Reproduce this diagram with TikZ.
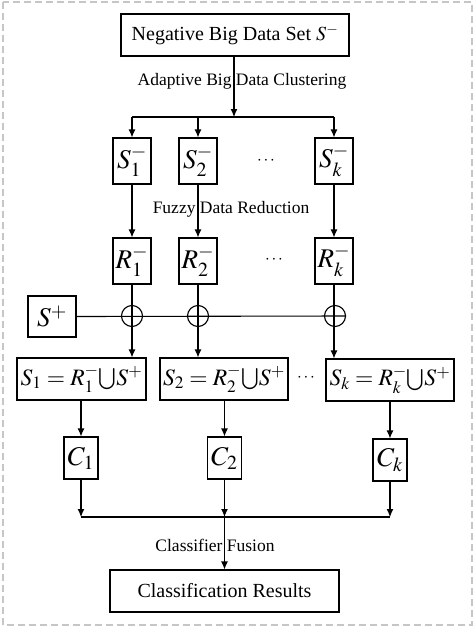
\documentclass[tikz,border=0pt]{standalone}
\usepackage{mathptmx}
\usepackage{fontspec}
\setmainfont{Liberation Serif}
\usetikzlibrary{arrows.meta}
\tikzset{
  box/.style={draw=black, line width=1.1pt, inner sep=0pt, align=center},
  mtxt/.style={font=\fontsize{27}{30}\selectfont},
  wtxt/.style={font=\fontsize{23.5}{28}\selectfont},
  btxt/.style={font=\fontsize{20}{24}\selectfont},
  dtxt/.style={font=\fontsize{17}{20}\selectfont, inner sep=0pt},
  lbl/.style={font=\fontsize{17.5}{20}\selectfont, inner sep=0pt},
  conn/.style={line width=1.1pt},
  arr/.style={line width=1.1pt, -{Latex[length=8pt,width=7pt]}},
  oplus/.style={circle, draw=black, line width=1.1pt, minimum size=21pt, inner sep=0pt},
}
\begin{document}
\begin{tikzpicture}[x=1pt,y=-1pt]
\useasboundingbox (0,0) rectangle (474,627);
\draw[gray!45, line width=2pt, dash pattern=on 7pt off 4pt] (3,2) rectangle (472,625);

% top
\node[box, btxt, minimum width=228pt, minimum height=42pt] (top) at (235,35) {Negative Big Data Set $S^{-}$};
\coordinate (j1) at (234,117);
\node[lbl] (lclust) at (242,81) {Adaptive Big Data Clustering};

% S_i^-
\node[box, mtxt, minimum width=38pt, minimum height=46pt] (s1) at (132,161) {$S_1^{-}$};
\node[box, mtxt, minimum width=38pt, minimum height=46pt] (s2) at (198,161) {$S_2^{-}$};
\node[box, mtxt, minimum width=38pt, minimum height=46pt] (sk) at (334,161) {$S_k^{-}$};
\node[dtxt] (d1) at (266,161) {$\cdots$};

\node[lbl] (lfuzzy) at (231,209) {Fuzzy Data Reduction};

% R_i^-
\node[box, mtxt, minimum width=38pt, minimum height=46pt] (r1) at (132,261) {$R_1^{-}$};
\node[box, mtxt, minimum width=38pt, minimum height=46pt] (r2) at (198,261) {$R_2^{-}$};
\node[box, mtxt, minimum width=38pt, minimum height=46pt] (rk) at (334,261) {$R_k^{-}$};
\node[dtxt] (d2) at (274,260) {$\cdots$};

% S+
\node[box, mtxt, minimum width=48pt, minimum height=41pt] (sp) at (52,316.5) {$S^{+}$};
\node[oplus] (o1) at (132,316) {};
\node[oplus] (o2) at (198,316) {};
\node[oplus] (ok) at (335,316) {};

% S_i
\node[box, wtxt, minimum width=129pt, minimum height=42pt] (u1) at (81.5,379) {$S_1=R_1^{-}\!\bigcup\! S^{+}$};
\node[box, wtxt, minimum width=128pt, minimum height=42pt] (u2) at (224,379) {$S_2=R_2^{-}\!\bigcup\! S^{+}$};
\node[box, wtxt, minimum width=128pt, minimum height=42pt] (uk) at (390,380) {$S_k=R_k^{-}\!\bigcup\! S^{+}$};
\node[dtxt] (d3) at (306,378) {$\cdots$};

% C_i
\node[box, mtxt, minimum width=34pt, minimum height=42pt] (c1) at (81,458) {$C_1$};
\node[box, mtxt, minimum width=34pt, minimum height=42pt] (c2) at (224.5,458) {$C_2$};
\node[box, mtxt, minimum width=34pt, minimum height=42pt] (ck) at (390,460) {$C_k$};

\coordinate (f1) at (81,517);
\coordinate (f2) at (224.5,517);
\coordinate (fk) at (390,517);
\node[lbl] (lfus) at (215,545) {Classifier Fusion};
\node[box, btxt, minimum width=229pt, minimum height=42pt] (res) at (224.5,591) {Classification Results};

% connectors
\draw[arr] (top.south -| j1) -- (j1);
\draw[conn] (s1.north |- j1) -- (sk.north |- j1);
\draw[arr] (s1.north |- j1) -- (s1.north);
\draw[arr] (s2.north |- j1) -- (s2.north);
\draw[arr] (sk.north |- j1) -- (sk.north);

\draw[arr] (s1.south) -- (r1.north);
\draw[arr] (s2.south) -- (r2.north);
\draw[arr] (sk.south) -- (rk.north);

\draw[conn] (sp.east) -- (ok.east);
\draw[arr] (r1.south) -- (r1.south |- u1.north);
\draw[arr] (r2.south) -- (r2.south |- u2.north);
\draw[arr] (rk.south) -- (rk.south |- uk.north);

\draw[arr] (u1.south -| c1) -- (c1.north);
\draw[arr] (u2.south -| c2) -- (c2.north);
\draw[arr] (uk.south -| ck) -- (ck.north);

\draw[arr] (c1.south) -- (f1);
\draw[arr] (c2.south) -- (f2);
\draw[arr] (ck.south) -- (fk);
\draw[conn] (f1) -- (fk);
\draw[arr] (f2) -- (res.north);
\end{tikzpicture}
\end{document}
